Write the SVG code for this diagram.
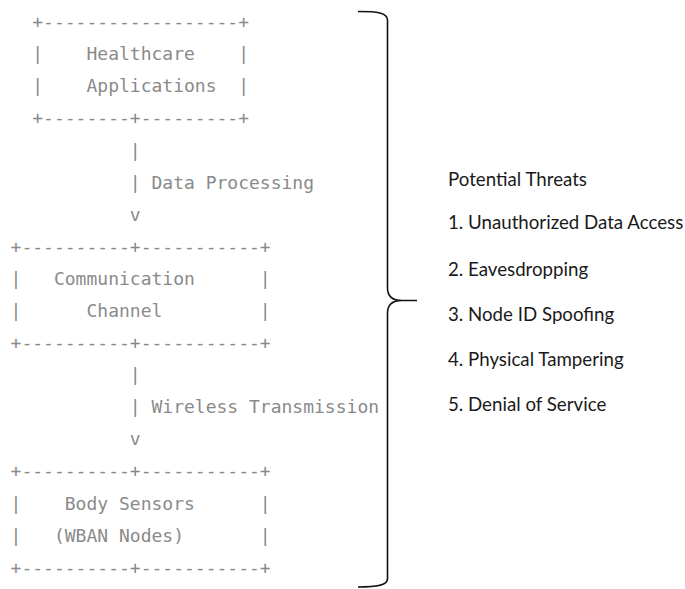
<svg xmlns="http://www.w3.org/2000/svg" width="685" height="589" viewBox="0 0 685 589">
  <style>
    .a { font-family: "DejaVu Sans Mono", "Liberation Mono", monospace; font-size: 18px; fill: #8a8a8a; white-space: pre; }
    .t { font-family: Lato, "Liberation Sans", sans-serif; font-size: 18.7px; fill: #1a1a1a; }
    .brace { fill: none; stroke: #111; stroke-width: 1.6; }
  </style>
  <rect width="685" height="589" fill="#ffffff"/>

  <g id="node-healthcare" class="a">
    <text x="10.6" y="28.2" xml:space="preserve">  +------------------+</text>
    <text x="10.6" y="60.3" xml:space="preserve">  |    Healthcare    |</text>
    <text x="10.6" y="92.4" xml:space="preserve">  |    Applications  |</text>
    <text x="10.6" y="124.4" xml:space="preserve">  +--------+---------+</text>
  </g>

  <g id="node-communication" class="a">
    <text x="10.6" y="252.8" xml:space="preserve">+----------+-----------+</text>
    <text x="10.6" y="284.9" xml:space="preserve">|   Communication      |</text>
    <text x="10.6" y="317.0" xml:space="preserve">|      Channel         |</text>
    <text x="10.6" y="349.0" xml:space="preserve">+----------+-----------+</text>
  </g>

  <g id="node-sensors" class="a">
    <text x="10.6" y="477.4" xml:space="preserve">+----------+-----------+</text>
    <text x="10.6" y="509.5" xml:space="preserve">|    Body Sensors      |</text>
    <text x="10.6" y="541.6" xml:space="preserve">|   (WBAN Nodes)       |</text>
    <text x="10.6" y="573.6" xml:space="preserve">+----------+-----------+</text>
  </g>

  <g id="connectors" class="a">
    <text x="10.6" y="156.5" xml:space="preserve">           |</text>
    <text x="10.6" y="188.6" xml:space="preserve">           | Data Processing</text>
    <text x="10.6" y="220.7" xml:space="preserve">           v</text>
    <text x="10.6" y="381.1" xml:space="preserve">           |</text>
    <text x="10.6" y="413.2" xml:space="preserve">           | Wireless Transmission</text>
    <text x="10.6" y="445.3" xml:space="preserve">           v</text>
  </g>

  <g id="brace">
    <path class="brace" d="M358,11.5 C377,11.5 387.5,12.5 387.5,20 V288 C387.5,296 392,300.5 402,300.5 H417 M402,300.5 C392,300.5 387.5,305 387.5,313 V579 C387.5,585 378,587 358,587"/>
  </g>

  <g id="threats" class="t">
    <text x="448" y="186">Potential Threats</text>
    <text x="448" y="229.3">1. Unauthorized Data Access</text>
    <text x="448" y="275.5">2. Eavesdropping</text>
    <text x="448" y="320.5">3. Node ID Spoofing</text>
    <text x="448" y="365.5">4. Physical Tampering</text>
    <text x="448" y="410.5">5. Denial of Service</text>
  </g>
</svg>
